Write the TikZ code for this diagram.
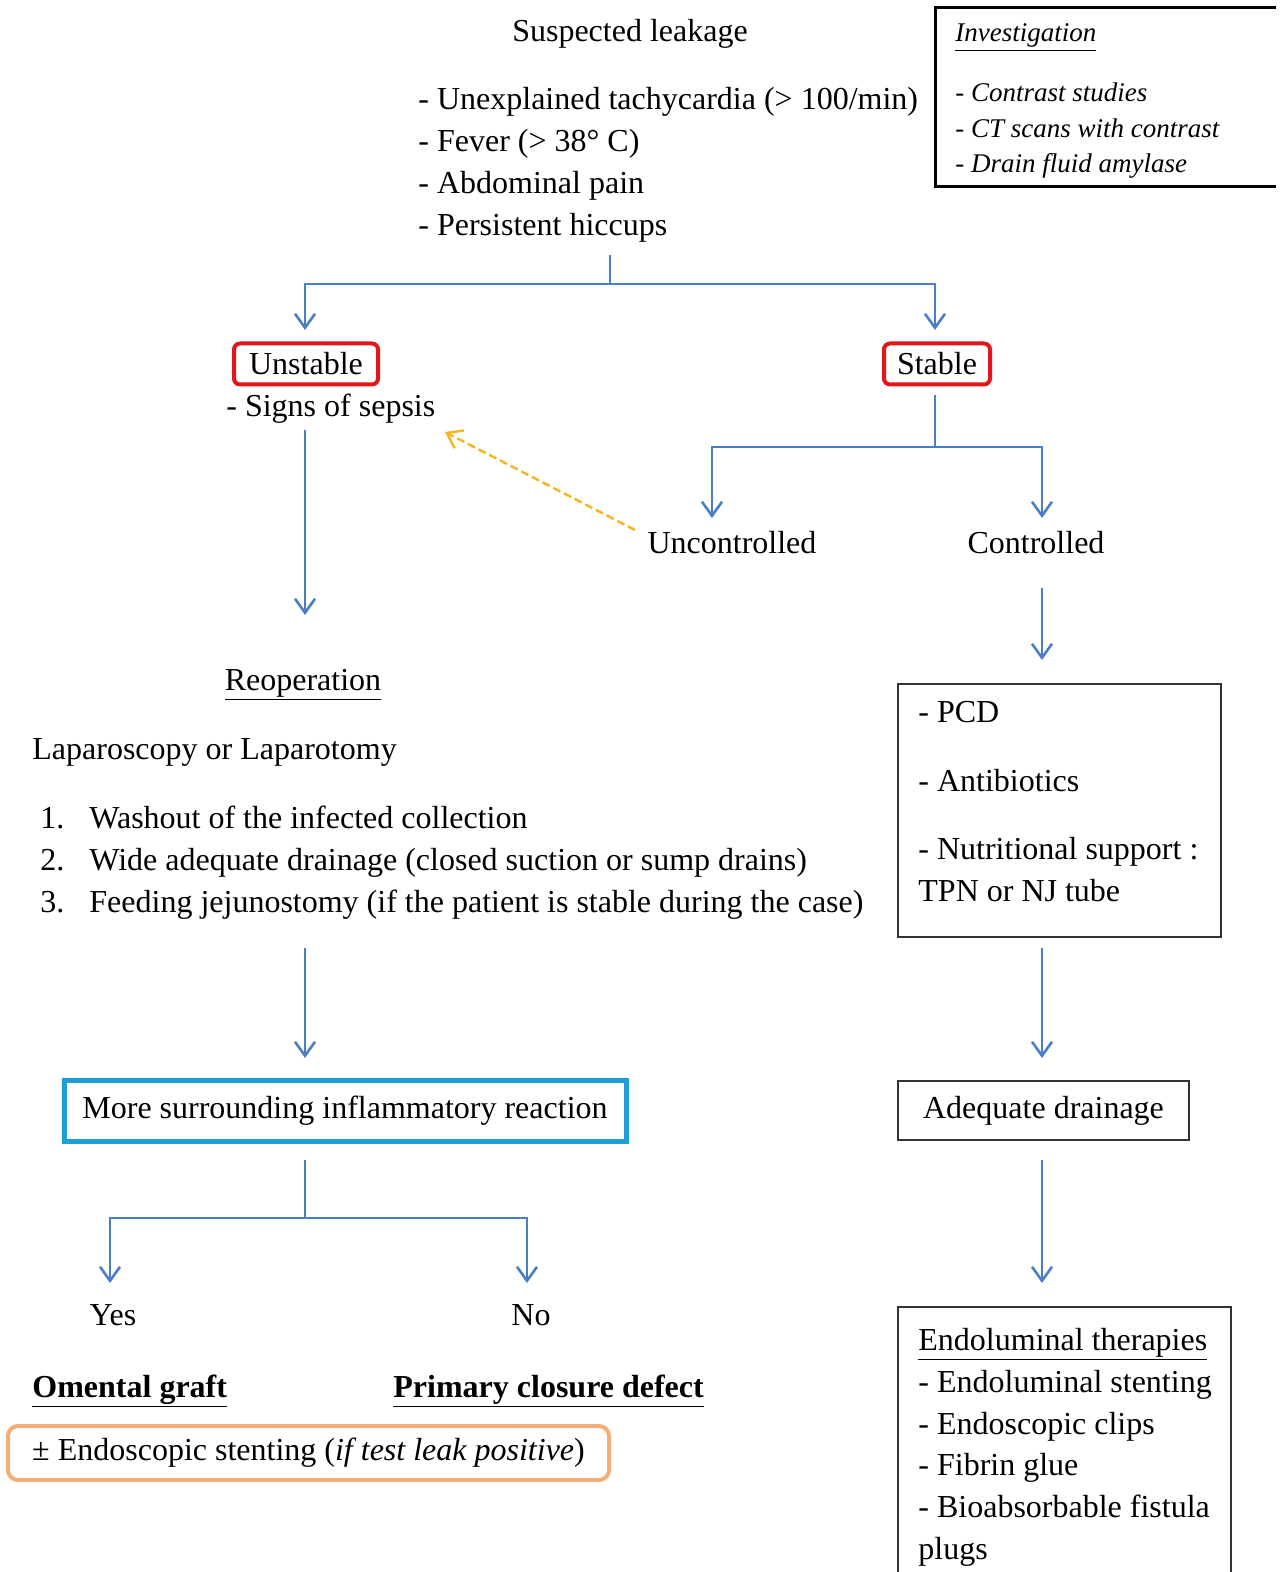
\documentclass[tikz,border=0pt]{standalone}
\usepackage{fontspec}
\setmainfont{Liberation Serif}
\usetikzlibrary{arrows.meta}
\definecolor{flowblue}{HTML}{4A7EC7}
\definecolor{boxred}{HTML}{E3161B}
\definecolor{boxcyan}{HTML}{1E9DD8}
\definecolor{boxorange}{HTML}{F2AE78}
\definecolor{dashyellow}{HTML}{F5B51E}
\begin{document}
\begin{tikzpicture}[x=0.5pt,y=-0.5pt,
  txt/.style={inner sep=0pt, font=\fontsize{16}{19}\selectfont},
  itxt/.style={inner sep=0pt, font=\fontsize{13.5}{16}\selectfont\itshape},
  flowline/.style={draw=flowblue, line width=1.3pt},
  flow/.style={flowline, -{Straight Barb[length=7pt,width=10pt,line width=1.3pt]}},
  redbox/.style={txt, draw=boxred, line width=2pt, rounded corners=3pt},
  plainbox/.style={draw=black!80, line width=1pt},
]
\useasboundingbox (0,0) rectangle (1279,1572);

% top
\node[txt, anchor=base] (susp) at (630,42) {Suspected leakage};
\node[txt, anchor=base west] (sy1) at (418,110) {- Unexplained tachycardia (> 100/min)};
\node[txt, anchor=base west] (sy2) at (418,152) {- Fever (> 38° C)};
\node[txt, anchor=base west] (sy3) at (418,194) {- Abdominal pain};
\node[txt, anchor=base west] (sy4) at (418,236) {- Persistent hiccups};

% investigation box
\draw[line width=1.5pt] (1276,187) -- (935,187) -- (935,8) -- (1276,8);
\node[itxt, anchor=base west] (inv) at (955,42) {\underline{Investigation}};
\node[itxt, anchor=base west] (inv1) at (955,102) {- Contrast studies};
\node[itxt, anchor=base west] (inv2) at (955,138) {- CT scans with contrast};
\node[itxt, anchor=base west] (inv3) at (955,173) {- Drain fluid amylase};

% unstable / stable
\node[redbox, minimum width=72pt, minimum height=20.5pt] (unst) at (306,364) {Unstable};
\node[redbox, minimum width=53pt, minimum height=20.5pt] (stab) at (937,364) {Stable};
\node[txt, anchor=base west] (sepsis) at (226,417) {- Signs of sepsis};

\coordinate (t0) at (610,255);
\coordinate (t1) at (610,284);
\coordinate (tl) at (305,330);
\coordinate (tr) at (935,330);
\draw[flowline] (t0) -- (t1);
\draw[flow] (t1) -| (tl);
\draw[flow] (t1) -| (tr);

\coordinate (s0) at (935,395);
\coordinate (s1) at (935,447);
\coordinate (su) at (712,518);
\coordinate (sc) at (1042,518);
\draw[flowline] (s0) -- (s1);
\draw[flow] (s1) -| (su);
\draw[flow] (s1) -| (sc);

\node[txt, anchor=base] (unc) at (732,553) {Uncontrolled};
\node[txt, anchor=base] (con) at (1036,553) {Controlled};

\coordinate (ys) at (635,530);
\coordinate (ye) at (445,432);
\draw[draw=dashyellow, line width=1.2pt, dash pattern=on 4pt off 2pt,
  -{Straight Barb[length=7pt,width=10pt,line width=1.2pt]}] (ys) -- (ye);

% left column
\coordinate (l0) at (305,430);
\coordinate (l1) at (305,615);
\draw[flow] (l0) -- (l1);

\node[txt, anchor=base] (reop) at (303,690) {\underline{Reoperation}};
\node[txt, anchor=base west] (lap) at (32,759) {Laparoscopy or Laparotomy};
\node[txt, anchor=base west] (n1) at (40,828) {1.};
\node[txt, anchor=base west] (n2) at (40,870) {2.};
\node[txt, anchor=base west] (n3) at (40,912) {3.};
\node[txt, anchor=base west] (i1) at (89,828) {Washout of the infected collection};
\node[txt, anchor=base west] (i2) at (89,870) {Wide adequate drainage (closed suction or sump drains)};
\node[txt, anchor=base west] (i3) at (89,912) {Feeding jejunostomy (if the patient is stable during the case)};

\coordinate (l2) at (305,948);
\coordinate (l3) at (305,1058);
\draw[flow] (l2) -- (l3);

\node[txt, draw=boxcyan, line width=2.5pt, minimum width=281pt, minimum height=30.5pt] (infl) at (345,1110.5) {More surrounding inflammatory reaction};

\coordinate (l4) at (305,1160);
\coordinate (l5) at (305,1218);
\coordinate (ly) at (110,1283);
\coordinate (ln) at (527,1283);
\draw[flowline] (l4) -- (l5);
\draw[flow] (l5) -| (ly);
\draw[flow] (l5) -| (ln);

\node[txt, anchor=base] (yes) at (113,1325) {Yes};
\node[txt, anchor=base] (no) at (531,1325) {No};
\node[txt, anchor=base west, font=\fontsize{16}{19}\selectfont\bfseries] (omg) at (32,1397) {\underline{Omental graft}};
\node[txt, anchor=base west, font=\fontsize{16}{19}\selectfont\bfseries] (pcl) at (393,1397) {\underline{Primary closure defect}};

\node[txt, draw=boxorange, line width=2pt, rounded corners=5pt, minimum width=300.5pt, minimum height=27pt] (endo) at (308.5,1453) {± Endoscopic stenting (\textit{if test leak positive})};

% right column
\coordinate (r0) at (1042,588);
\coordinate (r1) at (1042,660);
\draw[flow] (r0) -- (r1);

\node[plainbox, minimum width=161.5pt, minimum height=126.5pt, inner sep=0pt] (pcdbox) at (1059.5,810.5) {};
\node[txt, anchor=base west] (pcd) at (918,722) {- PCD};
\node[txt, anchor=base west] (abx) at (918,791) {- Antibiotics};
\node[txt, anchor=base west] (nut) at (918,859) {- Nutritional support :};
\node[txt, anchor=base west] (tpn) at (918,901) {TPN or NJ tube};

\coordinate (r2) at (1042,948);
\coordinate (r3) at (1042,1058);
\draw[flow] (r2) -- (r3);

\node[txt, plainbox, minimum width=145.5pt, minimum height=29.5pt] (adq) at (1043.5,1110.5) {Adequate drainage};

\coordinate (r4) at (1042,1160);
\coordinate (r5) at (1042,1283);
\draw[flow] (r4) -- (r5);

\draw[plainbox] (898,1572) -- (898,1307) -- (1231,1307) -- (1231,1572);
\node[txt, anchor=base west] (el0) at (918,1350) {\underline{Endoluminal therapies}};
\node[txt, anchor=base west] (el1) at (918,1392) {- Endoluminal stenting};
\node[txt, anchor=base west] (el2) at (918,1434) {- Endoscopic clips};
\node[txt, anchor=base west] (el3) at (918,1475) {- Fibrin glue};
\node[txt, anchor=base west] (el4) at (918,1517) {- Bioabsorbable fistula};
\node[txt, anchor=base west] (el5) at (918,1559) {plugs};
\end{tikzpicture}
\end{document}
